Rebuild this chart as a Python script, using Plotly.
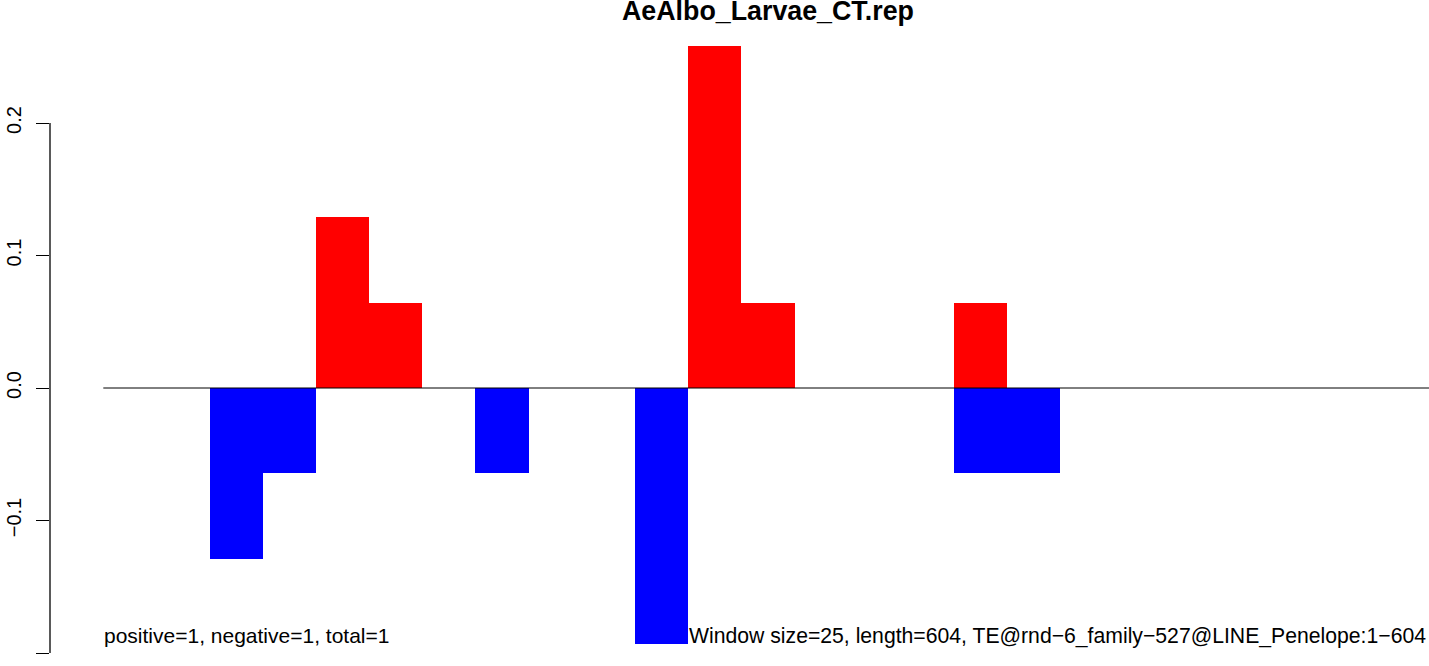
import plotly.graph_objects as go

title = "AeAlbo_Larvae_CT.rep"
n_bins = 25
bins = list(range(n_bins))
pos_vals = [0, 0, 0, 0, 0.129, 0.0645, 0, 0, 0, 0, 0, 0.258, 0.0645, 0, 0, 0, 0.0645, 0, 0, 0, 0, 0, 0, 0, 0]
neg_vals = [0, 0, -0.129, -0.0645, 0, 0, 0, -0.0645, 0, 0, -0.1935, 0, 0, 0, 0, 0, -0.0645, -0.0645, 0, 0, 0, 0, 0, 0, 0]
y_ticks = [-0.2, -0.1, 0.0, 0.1, 0.2]
y_tick_labels = ["\u22120.2", "\u22120.1", "0.0", "0.1", "0.2"]
left_note = "positive=1, negative=1, total=1"
right_note = "Window size=25, length=604, TE@rnd\u22126_family\u2212527@LINE_Penelope:1\u2212604"

W, H = 1429, 666
ML = 50
px_per_unit_x = 53.17
x0_px = 103.3
x_min = (ML - x0_px) / px_per_unit_x
x_max = x_min + (W - ML) / px_per_unit_x
zero_px = 388
px_per_unit_y = 1325
y_max = zero_px / px_per_unit_y
y_min = -(H - zero_px) / px_per_unit_y

FONT = "Liberation Sans, Arial, Helvetica, sans-serif"

fig = go.Figure()
centers = [b + 0.5 for b in bins]
fig.add_trace(go.Bar(x=centers, y=pos_vals, width=1, marker=dict(color="#FF0000", line=dict(width=0)), showlegend=False))
fig.add_trace(go.Bar(x=centers, y=neg_vals, width=1, marker=dict(color="#0000FF", line=dict(width=0)), showlegend=False))

# zero line
fig.add_trace(go.Scatter(x=[0, n_bins], y=[0, 0], mode="lines", line=dict(color="black", width=1), showlegend=False, hoverinfo="skip"))

# y axis line (only between outer ticks)
fig.add_shape(type="line", xref="paper", yref="y", x0=0, x1=0, y0=y_ticks[0], y1=y_ticks[-1],
              line=dict(color="black", width=1.3))

fig.add_annotation(x=n_bins / 2, y=1 - 11 / H, xref="x", yref="paper", text="<b>" + title + "</b>",
                   showarrow=False, xanchor="center", yanchor="middle", font=dict(family=FONT, size=26.8, color="black"))
fig.add_annotation(x=0, y=-0.187, xref="x", yref="y", text=left_note, showarrow=False,
                   xanchor="left", yanchor="middle", font=dict(family=FONT, size=21, color="black"), borderpad=0)
fig.add_annotation(x=11, y=-0.187, xref="x", yref="y", text=right_note, showarrow=False,
                   xanchor="left", yanchor="middle", font=dict(family=FONT, size=21.2, color="black"), borderpad=0)

fig.update_layout(
    width=W, height=H,
    margin=dict(l=ML, r=0, t=0, b=0),
    paper_bgcolor="white", plot_bgcolor="white",
    barmode="overlay", bargap=0,
    xaxis=dict(range=[x_min, x_max], visible=False, showgrid=False, zeroline=False),
    yaxis=dict(range=[y_min, y_max], showgrid=False, zeroline=False, showline=False,
               tickmode="array", tickvals=y_ticks, ticktext=y_tick_labels,
               ticks="outside", ticklen=13, tickwidth=1.3, tickcolor="black",
               tickangle=-90, ticklabelstandoff=7,
               tickfont=dict(family=FONT, size=20, color="black")),
)

fig.write_html("out.html", config={"displayModeBar": False},
               post_script="document.body.style.margin='0';document.body.style.overflow='hidden';")
